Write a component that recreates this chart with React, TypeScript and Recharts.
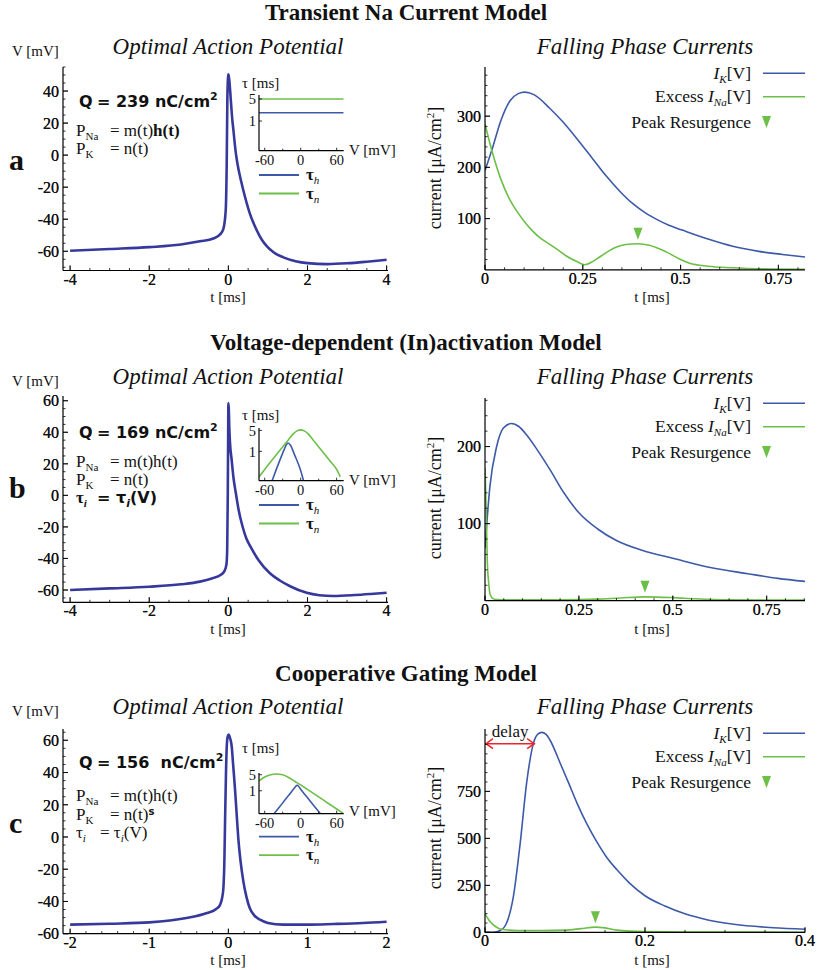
import React from 'react';
import { ComposedChart, Line, XAxis, YAxis, ReferenceDot, ReferenceLine } from 'recharts';

const SERIF = '"Liberation Serif", "Times New Roman", serif';
const SANS = '"DejaVu Sans", sans-serif';
const AP_COLOR = '#36399b';
const BLUE = '#3d5aa8';
const GREEN = '#6cbf47';
const RED = '#e8262d';

// ---------- Optimal action potentials (t [ms], V [mV]) ----------
const apA: [number, number][] = [
  [-4, -59.7], [-3, -58.6], [-2, -57.4], [-1.2, -55.8], [-0.72, -53.8], [-0.38, -52], [-0.21, -49.5],
  [-0.126, -46], [-0.067, -34.5], [-0.042, -5.4], [-0.025, 36], [-0.01, 48], [0, 50.5], [0.015, 48.5],
  [0.03, 45], [0.06, 35], [0.1, 22], [0.13, 15], [0.18, 3], [0.23, -5.4], [0.32, -16], [0.42, -26],
  [0.55, -37], [0.72, -47], [0.85, -53], [0.97, -56.8], [1.15, -60.8], [1.39, -63.8], [1.7, -66.2],
  [2.0, -67.4], [2.5, -68], [3.0, -67.5], [3.5, -66.5], [4.0, -65.3],
];
const apB: [number, number][] = [
  [-4, -60], [-3, -59], [-2, -57.9], [-1.2, -56.4], [-0.72, -54.7], [-0.4, -52.5], [-0.2, -50.5],
  [-0.1, -48], [-0.05, -44], [-0.03, -35], [-0.015, 0], [-0.005, 40], [0, 58.5], [0.01, 55],
  [0.025, 42], [0.042, 33], [0.084, 22.4], [0.13, 11], [0.19, 1.3], [0.26, -9.3], [0.36, -19.9],
  [0.45, -27], [0.56, -32.5], [0.76, -41], [1.05, -49.4], [1.3, -54], [1.56, -57.6], [1.98, -61.8],
  [2.3, -63.3], [2.65, -63.8], [3.2, -63.2], [3.6, -62.5], [4, -61.7],
];
const apC: [number, number][] = [
  [-2, -54.4], [-1.5, -53.8], [-1, -53], [-0.53, -50.3], [-0.27, -47.2], [-0.15, -44.5], [-0.105, -42.1],
  [-0.08, -38], [-0.063, -31.8], [-0.05, -14], [-0.042, 9.2], [-0.03, 40], [-0.02, 56.5], [-0.008, 62.5],
  [0.004, 63.5], [0.02, 61.5], [0.042, 56.3], [0.06, 45], [0.084, 29.7], [0.105, 14], [0.126, -1.1],
  [0.155, -15.5], [0.19, -27.7], [0.23, -37.5], [0.27, -44.1], [0.33, -48.8], [0.4, -51.3], [0.5, -53.3],
  [0.69, -54.4], [1, -54.4], [1.33, -54], [1.7, -53.4], [2, -52.6],
];

// ---------- Time constants (V [mV], tau [ms]) ----------
const tauAh: [number, number][] = [[-69.5, 1.83], [71.7, 1.83]];
const tauAn: [number, number][] = [[-69.5, 5], [71.7, 5]];
const tauBh: [number, number][] = [
  [-48, 0.1], [-40, 0.27], [-30, 0.87], [-25, 1.5], [-21, 1.9], [-17, 1.6], [-10, 0.75], [0, 0.23], [5, 0.1],
];
const tauBn: [number, number][] = [
  [-69.5, 0.14], [-60, 0.25], [-50, 0.45], [-40, 0.8], [-30, 1.4], [-20, 2.5], [-12, 3.9], [-6, 4.8],
  [0, 5.2], [6, 4.8], [12, 3.9], [20, 2.5], [30, 1.4], [40, 0.8], [50, 0.45], [60, 0.25], [66, 0.14],
];
const tauCh: [number, number][] = [
  [-44.5, 0.1], [-35, 0.2], [-25, 0.44], [-15, 0.93], [-9, 1.45], [-6, 1.75], [-3, 1.5], [0, 1.17],
  [10, 0.55], [20, 0.26], [33, 0.1],
];
const tauCn: [number, number][] = [
  [-69.5, 2.7], [-60, 4.0], [-50, 5.0], [-40, 5.4], [-30, 5.0], [-20, 3.8], [-10, 2.6], [0, 1.8],
  [10, 1.21], [20, 0.81], [30, 0.54], [40, 0.36], [50, 0.24], [60, 0.16], [71.7, 0.1],
];

// ---------- Falling phase currents (t [ms], I [uA/cm2]) ----------
const ikA: [number, number][] = [
  [0, 194], [0.02, 240], [0.04, 290], [0.064, 330], [0.085, 344], [0.102, 347], [0.125, 342], [0.166, 315],
  [0.2, 288], [0.238, 253], [0.275, 217], [0.31, 183], [0.345, 153], [0.378, 129], [0.41, 111], [0.44, 98],
  [0.47, 87], [0.506, 77], [0.57, 60], [0.633, 46], [0.7, 36], [0.76, 30], [0.818, 25],
];
const inaA: [number, number][] = [
  [0, 285], [0.02, 226], [0.04, 178], [0.06, 142], [0.08, 116], [0.1, 95], [0.12, 77], [0.14, 63],
  [0.165, 50], [0.19, 37], [0.21, 26], [0.235, 16], [0.255, 10], [0.275, 16], [0.293, 25], [0.315, 36],
  [0.336, 44.6], [0.36, 49.5], [0.391, 51], [0.42, 48], [0.463, 35], [0.5, 20], [0.523, 12.7], [0.57, 7],
  [0.633, 4], [0.7, 2], [0.818, 1],
];
const ikB: [number, number][] = [
  [0, 68], [0.013, 148], [0.031, 200], [0.049, 224], [0.071, 230], [0.09, 226], [0.111, 215], [0.14, 195],
  [0.173, 170], [0.21, 140], [0.25, 114], [0.3, 93], [0.35, 78], [0.42, 65], [0.5, 55], [0.6, 43],
  [0.7, 35], [0.78, 29], [0.852, 25],
];
const inaB: [number, number][] = [
  [0, 172], [0.003, 120], [0.006, 53], [0.01, 22], [0.013, 9.5], [0.02, 3], [0.03, 1.5], [0.1, 1], [0.2, 1],
  [0.3, 2], [0.36, 3.5], [0.426, 5], [0.5, 4], [0.56, 2.5], [0.65, 1.2], [0.852, 0.8],
];
const ikC: [number, number][] = [
  [0, 0], [0.01, 0.5], [0.019, 10], [0.027, 50], [0.0355, 191], [0.044, 475], [0.052, 794], [0.0606, 1007],
  [0.066, 1055], [0.071, 1064], [0.076, 1055], [0.081, 1025], [0.094, 900], [0.105, 790], [0.115, 688],
  [0.127, 580], [0.14, 480], [0.152, 400], [0.165, 333], [0.18, 265], [0.2, 195], [0.225, 140],
  [0.249, 100], [0.28, 65], [0.311, 43], [0.36, 25], [0.4, 17],
];
const inaC: [number, number][] = [
  [0, 99], [0.005, 65], [0.01, 41], [0.015, 26], [0.019, 18], [0.03, 12], [0.04, 10], [0.07, 10], [0.1, 12],
  [0.12, 20], [0.138, 28], [0.15, 24], [0.165, 12], [0.2, 4], [0.25, 2], [0.4, 1],
];
const peakA = { t: 0.391, v: 51 };
const peakB = { t: 0.426, v: 5 };
const peakC = { t: 0.138, v: 28 };
const delayC = { t0: 0, t1: 0.0627, v: 1004 };

// ---------- Tick labels ----------
const apTicksAB = [-4, -2, 0, 2, 4];
const apTicksC = [-2, -1, 0, 1, 2];
const vTicksA = [-60, -40, -20, 0, 20, 40];
const vTicksBC = [-60, -40, -20, 0, 20, 40, 60];
const curTTicksAB = [0, 0.25, 0.5, 0.75];
const curTTicksC = [0, 0.2, 0.4];
const curITicksA = [100, 200, 300];
const curITicksB = [100, 200];
const curITicksC = [0, 250, 500, 750];
const insetVTicks = [-60, 0, 60];
const insetTauTicks = [1, 5];

const pts = (arr: [number, number][]) => arr.map(([t, v]) => ({ t, v }));
const steps = (a: number, b: number, s: number) => {
  const out: number[] = [];
  for (let i = 0; a + i * s <= b + 1e-9; i++) out.push(+(a + i * s).toFixed(6));
  return out;
};

type PlotProps = {
  rect: [number, number, number, number];
  xDomain: [number, number];
  yDomain: [number, number];
  xMajor: number[];
  xMinor: number[];
  yMajor: number[];
  yMinor: number[];
  yLog?: boolean;
  small?: boolean;
  children?: React.ReactNode;
};

function Plot({ rect, xDomain, yDomain, xMajor, xMinor, yMajor, yMinor, yLog, small, children }: PlotProps) {
  const PL = 60, PT = 10, PR = 14, PB = 30;
  const pw = rect[2] - rect[0];
  const ph = rect[3] - rect[1];
  const W = pw + PL + PR;
  const H = ph + PT + PB;
  const axisY = PT + ph;
  const fs = small ? 14.5 : 16;
  const majLen = small ? 3 : 5;
  const minLen = small ? 2 : 2.5;
  const isMaj = (arr: number[], v: number) => arr.some((m) => Math.abs(m - v) < 1e-9);
  const xTick = (props: any) => {
    const { x, payload } = props;
    const v = payload.value;
    const maj = isMaj(xMajor, v);
    return (
      <g>
        <line x1={x} x2={x} y1={axisY} y2={axisY - (maj ? majLen : minLen)} stroke="#000" strokeWidth={0.8} />
        {maj && (
          <text x={x} y={axisY + (small ? 14 : 14)} textAnchor="middle" fontSize={fs} fontFamily={SERIF} fill="#111">
            {String(v)}
          </text>
        )}
      </g>
    );
  };
  const yTick = (props: any) => {
    const { y, payload } = props;
    const v = payload.value;
    const maj = isMaj(yMajor, v);
    return (
      <g>
        <line x1={PL} x2={PL + (maj ? majLen : minLen)} y1={y} y2={y} stroke="#000" strokeWidth={0.8} />
        {maj && (
          <text x={PL - (small ? 3 : 4)} y={y + fs * 0.36} textAnchor="end" fontSize={fs} fontFamily={SERIF} fill="#111">
            {String(v)}
          </text>
        )}
      </g>
    );
  };
  return (
    <div style={{ position: 'absolute', left: rect[0] - PL, top: rect[1] - PT, width: W, height: H }}>
      <ComposedChart width={W} height={H} margin={{ top: PT, right: PR, bottom: 0, left: 0 }}>
        <XAxis
          type="number"
          dataKey="t"
          domain={xDomain}
          allowDataOverflow
          ticks={[...xMajor, ...xMinor]}
          interval={0}
          tick={xTick}
          tickLine={false}
          tickSize={0}
          tickMargin={0}
          axisLine={{ stroke: '#000', strokeWidth: 1.2 }}
          height={PB}
        />
        <YAxis
          type="number"
          dataKey="v"
          domain={yDomain}
          scale={yLog ? 'log' : 'linear'}
          allowDataOverflow
          ticks={[...yMajor, ...yMinor]}
          interval={0}
          tick={yTick}
          tickLine={false}
          tickSize={0}
          tickMargin={0}
          axisLine={{ stroke: '#000', strokeWidth: 1.2 }}
          width={PL}
        />
        {children}
      </ComposedChart>
    </div>
  );
}

const Tri = (props: any) => {
  const { cx, cy } = props;
  return <path d={`M${cx - 4.5},${cy - 16} L${cx + 4.5},${cy - 16} L${cx},${cy - 4} Z`} fill={GREEN} />;
};

const DelayArrow = (props: any) => {
  const { x1, y1, x2, y2 } = props;
  const mid = (x1 + x2) / 2;
  return (
    <g>
      <line x1={x1} y1={y1} x2={x2} y2={y2} stroke={RED} strokeWidth={1.5} />
      <path d={`M${x1 + 8},${y1 - 5} L${x1 + 1},${y1} L${x1 + 8},${y1 + 5}`} fill="none" stroke={RED} strokeWidth={1.5} />
      <path d={`M${x2 - 8},${y2 - 5} L${x2 - 1},${y2} L${x2 - 8},${y2 + 5}`} fill="none" stroke={RED} strokeWidth={1.5} />
      <text x={mid} y={y1 - 7} textAnchor="middle" fontSize={17} fontFamily={SERIF} fill="#111">delay</text>
    </g>
  );
};

function apLine(data: [number, number][]) {
  return <Line data={pts(data)} dataKey="v" type="monotone" dot={false} stroke={AP_COLOR} strokeWidth={2.6} isAnimationActive={false} />;
}
function tauLine(data: [number, number][], color: string) {
  return <Line data={pts(data)} dataKey="v" type="monotone" dot={false} stroke={color} strokeWidth={1.6} isAnimationActive={false} />;
}
function curLine(data: [number, number][], color: string) {
  return <Line data={pts(data)} dataKey="v" type="monotone" dot={false} stroke={color} strokeWidth={1.6} isAnimationActive={false} />;
}

// Overlay texts
function RowTitle({ y, text }: { y: number; text: string }) {
  return <text x={406} y={y} textAnchor="middle" fontWeight="bold" fontSize={23} fill="#111">{text}</text>;
}

function RowTexts({ dy, tY }: { dy: number; tY: number }) {
  return (
    <g>
      <text x={12} y={56 + dy} fontSize={15} fill="#111">V [mV]</text>
      <text x={228} y={54 + dy} textAnchor="middle" fontStyle="italic" fontSize={23} fill="#111">Optimal Action Potential</text>
      <text x={645} y={54 + dy} textAnchor="middle" fontStyle="italic" fontSize={23} fill="#111">Falling Phase Currents</text>
      <text x={228} y={tY} textAnchor="middle" fontSize={15} fill="#111">t [ms]</text>
      <text x={652} y={tY} textAnchor="middle" fontSize={15} fill="#111">t [ms]</text>
      <text transform={`rotate(-90 441 ${168 + dy})`} x={441} y={168 + dy} textAnchor="middle" fontSize={18} fill="#111">
        current [μA/cm<tspan dy={-7} fontSize={11}>2</tspan><tspan dy={7}>]</tspan>
      </text>
      {/* current legend */}
      <text x={751} y={79 + dy} textAnchor="end" fontSize={17.5} fill="#111">
        <tspan fontStyle="italic">I</tspan><tspan fontStyle="italic" fontSize={11} dy={4}>K</tspan><tspan dy={-4}>[V]</tspan>
      </text>
      <line x1={763} x2={805} y1={73.3 + dy} y2={73.3 + dy} stroke={BLUE} strokeWidth={1.6} />
      <text x={751} y={102 + dy} textAnchor="end" fontSize={17.5} fill="#111">
        Excess <tspan fontStyle="italic">I</tspan><tspan fontStyle="italic" fontSize={11} dy={4}>Na</tspan><tspan dy={-4}>[V]</tspan>
      </text>
      <line x1={763} x2={805} y1={96.7 + dy} y2={96.7 + dy} stroke={GREEN} strokeWidth={1.6} />
      <text x={751} y={128 + dy} textAnchor="end" fontSize={17.5} fill="#111">Peak Resurgence</text>
      <path d={`M${762},${116 + dy} L${771},${116 + dy} L${766.5},${128 + dy} Z`} fill={GREEN} />
    </g>
  );
}

function InsetTexts({ tauY, vY, legY }: { tauY: number; vY: number; legY: number }) {
  return (
    <g>
      <text x={242} y={tauY} fontSize={15} fill="#111">τ [ms]</text>
      <text x={349} y={vY} fontSize={15} fill="#111">V [mV]</text>
      <line x1={259} x2={299} y1={legY} y2={legY} stroke={BLUE} strokeWidth={1.8} />
      <text x={306} y={legY + 5} fontSize={17} fontWeight="bold" fill="#111">
        τ<tspan fontSize={11} fontStyle="italic" fontWeight="normal" dy={4}>h</tspan>
      </text>
      <line x1={259} x2={299} y1={legY + 18.5} y2={legY + 18.5} stroke={GREEN} strokeWidth={1.8} />
      <text x={306} y={legY + 23.5} fontSize={17} fontWeight="bold" fill="#111">
        τ<tspan fontSize={11} fontStyle="italic" fontWeight="normal" dy={4}>n</tspan>
      </text>
    </g>
  );
}

export default function App() {
  return (
    <div style={{ position: 'absolute', left: 0, top: 0, width: 817, height: 970, background: '#fff', overflow: 'hidden' }}>
      {/* Row a */}
      <Plot rect={[63.3, 66.7, 388.3, 270.2]} xDomain={[-4.18, 4.035]} yDomain={[-72, 55]}
        xMajor={apTicksAB} xMinor={steps(-4, 4, 0.5)} yMajor={vTicksA} yMinor={steps(-70, 55, 5)}>
        {apLine(apA)}
      </Plot>
      <Plot rect={[259.3, 95, 344, 150.7]} xDomain={[-69.5, 71.7]} yDomain={[0.114, 6.7]} yLog small
        xMajor={insetVTicks} xMinor={[-30, 30]} yMajor={insetTauTicks} yMinor={[]}>
        {tauLine(tauAh, BLUE)}
        {tauLine(tauAn, GREEN)}
      </Plot>
      <Plot rect={[485, 66.7, 805, 269.5]} xDomain={[0, 0.818]} yDomain={[0, 396]}
        xMajor={curTTicksAB} xMinor={steps(0, 0.8, 0.05)} yMajor={curITicksA} yMinor={steps(20, 380, 20)}>
        {curLine(ikA, BLUE)}
        {curLine(inaA, GREEN)}
        <ReferenceDot x={peakA.t} y={peakA.v} r={0} ifOverflow="visible" shape={Tri} />
      </Plot>

      {/* Row b */}
      <Plot rect={[63.3, 396, 388.3, 602.3]} xDomain={[-4.18, 4.035]} yDomain={[-67.8, 63]}
        xMajor={apTicksAB} xMinor={steps(-4, 4, 0.5)} yMajor={vTicksBC} yMinor={steps(-65, 60, 5)}>
        {apLine(apB)}
      </Plot>
      <Plot rect={[259.3, 428.3, 344, 481]} xDomain={[-69.5, 71.7]} yDomain={[0.105, 6.0]} yLog small
        xMajor={insetVTicks} xMinor={[-30, 30]} yMajor={insetTauTicks} yMinor={[]}>
        {tauLine(tauBn, GREEN)}
        {tauLine(tauBh, BLUE)}
      </Plot>
      <Plot rect={[485, 398.3, 805, 601]} xDomain={[0, 0.852]} yDomain={[0, 263]}
        xMajor={curTTicksAB} xMinor={steps(0, 0.85, 0.05)} yMajor={curITicksB} yMinor={steps(20, 260, 20)}>
        {curLine(ikB, BLUE)}
        {curLine(inaB, GREEN)}
        <ReferenceDot x={peakB.t} y={peakB.v} r={0} ifOverflow="visible" shape={Tri} />
      </Plot>

      {/* Row c */}
      <Plot rect={[63.3, 729.3, 388.3, 934]} xDomain={[-2.09, 2.0175]} yDomain={[-60, 67]}
        xMajor={apTicksC} xMinor={steps(-2, 2, 0.2)} yMajor={vTicksBC} yMinor={steps(-60, 65, 5)}>
        {apLine(apC)}
      </Plot>
      <Plot rect={[259.3, 773.3, 344, 814]} xDomain={[-69.5, 71.7]} yDomain={[0.1, 5.95]} yLog small
        xMajor={insetVTicks} xMinor={[-30, 30]} yMajor={insetTauTicks} yMinor={[]}>
        {tauLine(tauCn, GREEN)}
        {tauLine(tauCh, BLUE)}
      </Plot>
      <Plot rect={[485, 729.3, 805, 932.7]} xDomain={[0, 0.4]} yDomain={[0, 1082]}
        xMajor={curTTicksC} xMinor={steps(0, 0.4, 0.05)} yMajor={curITicksC} yMinor={steps(0, 1050, 50)}>
        {curLine(ikC, BLUE)}
        {curLine(inaC, GREEN)}
        <ReferenceDot x={peakC.t} y={peakC.v} r={0} ifOverflow="visible" shape={Tri} />
        <ReferenceLine
          segment={[{ x: delayC.t0, y: delayC.v }, { x: delayC.t1, y: delayC.v }]}
          ifOverflow="visible"
          shape={DelayArrow}
        />
      </Plot>

      <svg width={817} height={970} style={{ position: 'absolute', left: 0, top: 0, pointerEvents: 'none', whiteSpace: 'pre' }} fontFamily={SERIF}>
        <RowTitle y={20} text="Transient Na Current Model" />
        <RowTitle y={350} text="Voltage-dependent (In)activation Model" />
        <RowTitle y={681} text="Cooperative Gating Model" />
        <RowTexts dy={0} tY={302} />
        <RowTexts dy={330} tY={633.5} />
        <RowTexts dy={660} tY={965} />
        <InsetTexts tauY={88} vY={155} legY={175} />
        <InsetTexts tauY={420} vY={485} legY={505} />
        <InsetTexts tauY={753} vY={816} legY={836.7} />

        {/* panel letters */}
        <text x={9} y={170} fontSize={30} fontWeight="bold" fill="#111">a</text>
        <text x={9} y={498} fontSize={30} fontWeight="bold" fill="#111">b</text>
        <text x={9} y={833} fontSize={30} fontWeight="bold" fill="#111">c</text>

        {/* row a annotations */}
        <text x={79} y={107} fontSize={16} fontWeight="bold" fontFamily={SANS} fill="#111">Q</text>
        <text x={97} y={107} fontSize={16} fontWeight="bold" fontFamily={SANS} fill="#111">= 239 nC/cm<tspan dy={-7} fontSize={11}>2</tspan></text>
        <text x={76} y={136} fontSize={17} fill="#111">P<tspan fontSize={11} dy={4}>Na</tspan></text>
        <text x={110} y={136} fontSize={17} fill="#111">= m(t)<tspan fontWeight="bold">h(t)</tspan></text>
        <text x={76} y={154} fontSize={17} fill="#111">P<tspan fontSize={11} dy={4}>K</tspan></text>
        <text x={110} y={154} fontSize={17} fill="#111">= n(t)</text>

        {/* row b annotations */}
        <text x={79} y={438} fontSize={16} fontWeight="bold" fontFamily={SANS} fill="#111">Q</text>
        <text x={97} y={438} fontSize={16} fontWeight="bold" fontFamily={SANS} fill="#111">= 169 nC/cm<tspan dy={-7} fontSize={11}>2</tspan></text>
        <text x={76} y={466.7} fontSize={17} fill="#111">P<tspan fontSize={11} dy={4}>Na</tspan></text>
        <text x={110} y={466.7} fontSize={17} fill="#111">= m(t)h(t)</text>
        <text x={76} y={485} fontSize={17} fill="#111">P<tspan fontSize={11} dy={4}>K</tspan></text>
        <text x={110} y={485} fontSize={17} fill="#111">= n(t)</text>
        <text x={76} y={503} fontSize={17} fontWeight="bold" fill="#111">τ<tspan fontSize={11} fontStyle="italic" dy={4}>i</tspan></text>
        <text x={97} y={503} fontSize={16} fontWeight="bold" fontFamily={SANS} fill="#111">= τ<tspan fontSize={11} fontStyle="italic" dy={4}>i</tspan><tspan dy={-4}>(V)</tspan></text>

        {/* row c annotations */}
        <text x={79} y={768} fontSize={16} fontWeight="bold" fontFamily={SANS} fill="#111">Q</text>
        <text x={97} y={768} fontSize={16} fontWeight="bold" fontFamily={SANS} fill="#111" xmlSpace="preserve">= 156  nC/cm<tspan dy={-7} fontSize={11}>2</tspan></text>
        <text x={76} y={800.7} fontSize={17} fill="#111">P<tspan fontSize={11} dy={4}>Na</tspan></text>
        <text x={110} y={800.7} fontSize={17} fill="#111">= m(t)h(t)</text>
        <text x={76} y={820} fontSize={17} fill="#111">P<tspan fontSize={11} dy={4}>K</tspan></text>
        <text x={110} y={820} fontSize={17} fill="#111">= n(t)<tspan dy={-5} fontSize={10} fontWeight="bold" fontFamily={SANS}>s</tspan></text>
        <text x={76} y={838} fontSize={17} fill="#111">τ<tspan fontSize={11} fontStyle="italic" dy={4}>i</tspan></text>
        <text x={100} y={838} fontSize={17} fill="#111">= τ<tspan fontSize={11} fontStyle="italic" dy={4}>i</tspan><tspan dy={-4}>(V)</tspan></text>
      </svg>
    </div>
  );
}
